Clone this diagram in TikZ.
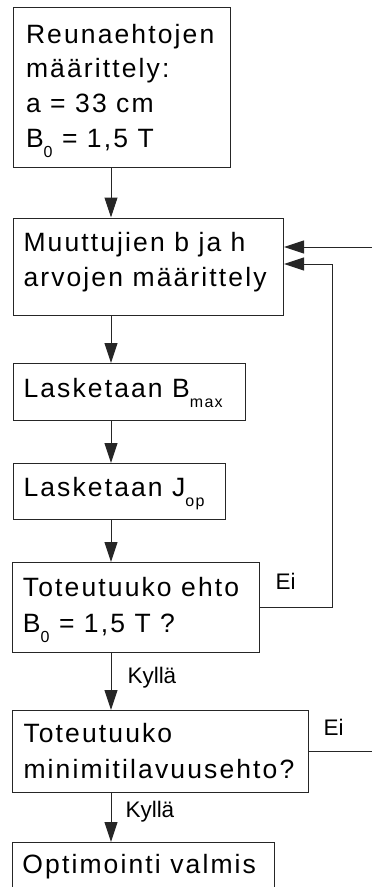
\documentclass[tikz,border=0pt]{standalone}
\usepackage{fontspec}
\setmainfont{Liberation Sans}[LetterSpace=8]
\newfontfamily\lblfont{Liberation Sans}
\usetikzlibrary{arrows.meta}
\newcommand{\sbx}[1]{\raisebox{-10pt}{\fontsize{16}{16}\selectfont #1}}
\begin{document}
\begin{tikzpicture}[x=1pt,y=-1pt,
  line width=1pt,
  box/.style={draw=black!85, anchor=north west, inner sep=0pt},
  txt/.style={anchor=base west, inner sep=0pt, align=left, font=\fontsize{26.5}{35.5}\selectfont},
  lbl/.style={anchor=base west, inner sep=0pt, font=\lblfont\fontsize{22.5}{26}\selectfont},
  arr/.style={draw=black!85, -{Triangle[length=20pt,width=13pt]}},
  ln/.style={draw=black!85}]
\useasboundingbox (0,0) rectangle (372,887);
% boxes
\node[box, minimum width=217.3pt, minimum height=160pt] (b1) at (12.7,7) {};
\node[box, minimum width=270pt, minimum height=97.5pt] (b2) at (13,217.5) {};
\node[box, minimum width=232pt, minimum height=57pt] (b3) at (13,363) {};
\node[box, minimum width=212pt, minimum height=56pt] (b4) at (13,463) {};
\node[box, minimum width=247pt, minimum height=89.5pt] (b5) at (12,562) {};
\node[box, minimum width=295.5pt, minimum height=82pt] (b6) at (12,710) {};
\node[box, minimum width=262pt, minimum height=58pt] (b7) at (12,842) {};
% texts (anchor = baseline of the last line)
\node[txt, font=\fontsize{26.5}{34.8}\selectfont] (t1) at (25.5,147.5) {Reunaehtojen\\määrittely:\\a = 33 cm\\B\sbx{0} = 1,5 T};
\node[txt] (t2) at (23,286.7) {Muuttujien b ja h\\arvojen määrittely};
\node[txt] (t3) at (23,397) {Lasketaan B\sbx{max}};
\node[txt] (t4) at (23,496) {Lasketaan J\sbx{op}};
\node[txt] (t5) at (22.5,632) {Toteutuuko ehto\\B\sbx{0} = 1,5 T ?};
\node[txt] (t6) at (23,778) {Toteutuuko\\minimitilavuusehto?};
\node[txt] (t7) at (22,873) {Optimointi valmis};
% labels
\node[lbl] (k1) at (127,683) {Kyllä};
\node[lbl] (k2) at (125,817) {Kyllä};
\node[lbl] (e1) at (275,589) {Ei};
\node[lbl] (e2) at (323,735) {Ei};
% helper coordinates
\coordinate (ax) at (111,0);
\coordinate (in1) at (372,247);
\coordinate (in2) at (332,264);
\coordinate (out) at (372,751);
% vertical arrows
\draw[arr] (b1.south -| ax) -- (b2.north -| ax);
\draw[arr] (b2.south -| ax) -- (b3.north -| ax);
\draw[arr] (b3.south -| ax) -- (b4.north -| ax);
\draw[arr] (b4.south -| ax) -- (b5.north -| ax);
\draw[arr] (b5.south -| ax) -- (b6.north -| ax);
\draw[arr] (b6.south -| ax) -- (b7.north -| ax);
% feedback
\draw[arr] (b5.east) -| (in2) -- (in2 -| b2.east);
\draw[arr] (in1) -- (in1 -| b2.east);
\draw[ln] (b6.east) -- (b6.east -| out);
\end{tikzpicture}
\end{document}
